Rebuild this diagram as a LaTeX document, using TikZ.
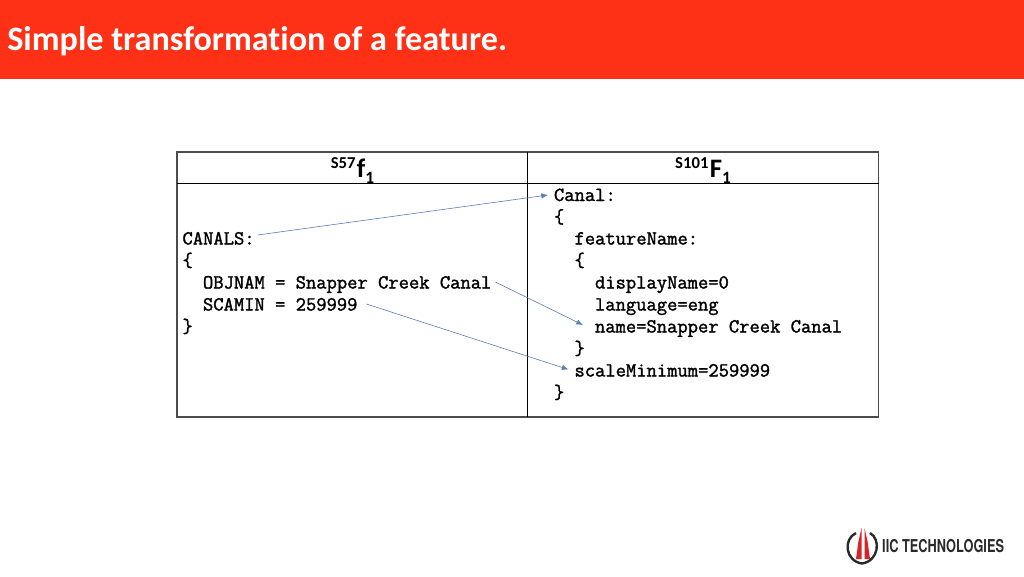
\documentclass[tikz,border=0pt]{standalone}
\usepackage{fontspec}
\setmainfont{Carlito}[Ligatures=NoCommon]
\newfontfamily\logofont{TeX Gyre Heros}
\newfontfamily\codefont{Latin Modern Mono}[FakeBold=1.6]
\usetikzlibrary{arrows.meta,calc}
\definecolor{banner}{HTML}{FE3015}
\definecolor{arrowblue}{HTML}{5B7DB8}
\definecolor{logored}{HTML}{D9232A}
\definecolor{logoblack}{HTML}{2A2A2A}
\newcommand{\hdr}[3]{{\fontsize{12.5}{13}\selectfont\raisebox{6.6pt}{#1}}\kern1pt{\fontsize{20}{22}\selectfont #2}{\fontsize{13}{14}\selectfont\raisebox{-4.8pt}{#3}}}
\tikzset{
  x=0.75pt,y=-0.75pt,
  code/.style={anchor=base west,inner sep=0pt,outer sep=0pt,font=\codefont\fontsize{15}{16}\selectfont,text=black},
  hdrtext/.style={anchor=base,inner sep=0pt,font=\bfseries,text=black},
  link/.style={draw=arrowblue,line width=0.45pt,-{Latex[length=5pt,width=4pt]}},
  rule/.style={draw=black,line width=0.8pt},
  frame/.style={draw=black!70,line width=1pt}
}
\begin{document}
\begin{tikzpicture}
\useasboundingbox (0,0) rectangle (1024,576);
\fill[white] (0,0) rectangle (1024,576);
\fill[banner] (0,0) rectangle (1024,79);
\node[anchor=base west,inner sep=0pt,text=white,font=\bfseries\fontsize{25.65}{28}\selectfont] (title) at (7,50) {Simple transformation of a feature.};
% table
\draw[frame] (177,152) rectangle (878.5,417);
\draw[rule] (177,183.5) -- (878.5,183.5);
\draw[rule] (527.5,152) -- (527.5,417);
\node[hdrtext] (h1) at (352.5,177) {\hdr{S57}{f}{1}};
\node[hdrtext] (h2) at (703,177) {\hdr{S101}{F}{1}};
% left code
\node[code] (canals) at (182.5,244.5) {CANALS:};
\node[code] (lb) at (182.5,266.5) {\{};
\node[code] (objnam) at (203,288.5) {OBJNAM = Snapper Creek Canal};
\node[code] (scamin) at (203,310.5) {SCAMIN = 259999};
\node[code] (rb) at (182.5,332.5) {\}};
% right code
\node[code] (canal) at (554,201) {Canal:};
\node[code] (b1) at (554,223) {\{};
\node[code] (fname) at (574.5,244.5) {featureName:};
\node[code] (b2) at (574.5,266.5) {\{};
\node[code] (disp) at (595,288.5) {displayName=0};
\node[code] (lang) at (595,310.5) {language=eng};
\node[code] (nm) at (595,332.5) {name=Snapper Creek Canal};
\node[code] (b3) at (574.5,354.5) {\}};
\node[code] (scale) at (574.5,376.5) {scaleMinimum=259999};
\node[code] (b4) at (554,398.5) {\}};
% connectors
\draw[link] ($(canals.base east)+(3,-9.5)$) -- ($(canal.base west)+(-6,-6)$);
\draw[link] ($(objnam.base east)+(4,-6.5)$) -- ($(nm.base west)+(-12,-7.5)$);
\draw[link] ($(scamin.base east)+(9,-6.5)$) -- ($(scale.base west)+(-6,-7)$);
% logo
\draw[logoblack,line width=1.8pt] (856,533) .. controls (843,539) and (845,561) .. (862,563.5) .. controls (879,561) and (881,539) .. (870,533);
\fill[logored] (856,559) -- (858.5,541) -- (861.5,528) -- (861.5,559) -- cycle;
\fill[logored] (864.5,528) -- (867.5,541) -- (870,559) -- (864.5,559) -- cycle;
\node[anchor=base west,inner sep=0pt,text=logoblack,xscale=0.72,font=\logofont\bfseries\fontsize{13.3}{14}\selectfont] (logo) at (882,552.5) {IIC TECHNOLOGIES};
\end{tikzpicture}
\end{document}
